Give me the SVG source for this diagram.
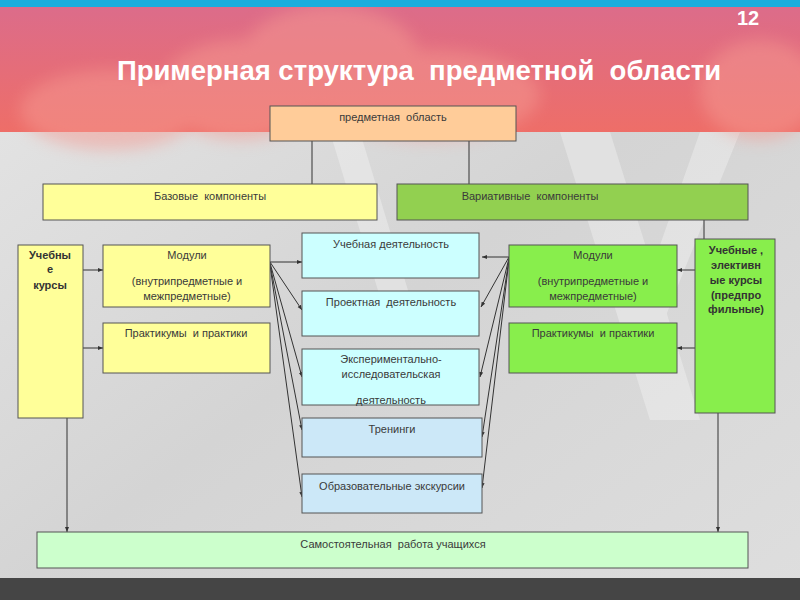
<svg xmlns="http://www.w3.org/2000/svg" width="800" height="600" viewBox="0 0 800 600" xml:space="preserve">
<defs>
  <linearGradient id="band" x1="0" y1="0" x2="0" y2="1">
    <stop offset="0" stop-color="#dc6c8a"/>
    <stop offset="1" stop-color="#ee6e68"/>
  </linearGradient>
  <linearGradient id="gray" x1="0" y1="0" x2="1" y2="1">
    <stop offset="0" stop-color="#e6e6e6"/>
    <stop offset="0.5" stop-color="#d4d4d4"/>
    <stop offset="1" stop-color="#dedede"/>
  </linearGradient>
  <filter id="blur" x="-20%" y="-20%" width="140%" height="140%">
    <feGaussianBlur stdDeviation="8"/>
  </filter>
  <marker id="arr" viewBox="0 0 10 10" refX="10" refY="5" markerWidth="5" markerHeight="5" markerUnits="userSpaceOnUse" orient="auto">
    <path d="M0,1 L10,5 L0,9 z" fill="#333"/>
  </marker>
  <style>
    text { white-space: pre; }
    .box { stroke: #555; stroke-width: 1; }
    .t { font-family: "Liberation Sans", Arial, sans-serif; font-size: 11px; fill: #3a3a3a; text-anchor: middle; }
    .tb { font-family: "Liberation Sans", Arial, sans-serif; font-size: 11px; font-weight: bold; fill: #333; text-anchor: middle; }
    .ln { stroke: #333; stroke-width: 1; fill: none; }
    .la { stroke: #333; stroke-width: 1; fill: none; marker-end: url(#arr); }
  </style>
</defs>

<!-- background -->
<rect x="0" y="0" width="800" height="600" fill="url(#gray)"/>
<g opacity="0.3" fill="#ffffff">
  <polygon points="560,132 610,132 700,420 650,420"/>
  <polygon points="700,132 740,132 660,330 630,330"/>
  <polygon points="330,132 360,132 420,330 390,330"/>
</g>
<rect x="0" y="7" width="800" height="125" fill="url(#band)"/>
<g filter="url(#blur)" fill="#f59a92" opacity="0.5">
  <ellipse cx="110" cy="110" rx="90" ry="40"/>
  <ellipse cx="240" cy="90" rx="80" ry="50"/>
  <ellipse cx="330" cy="60" rx="90" ry="55"/>
  <ellipse cx="430" cy="95" rx="110" ry="45"/>
  <ellipse cx="760" cy="90" rx="60" ry="50"/>
</g>
<rect x="0" y="0" width="800" height="7" fill="#1aaedd"/>
<rect x="0" y="578" width="800" height="22" fill="#454545"/>

<text x="748" y="25" font-family="Liberation Sans, Arial, sans-serif" font-size="20" font-weight="bold" fill="#ffffff" text-anchor="middle">12</text>
<text x="419" y="80" font-family="Liberation Sans, Arial, sans-serif" font-size="27.5" font-weight="bold" fill="#ffffff" text-anchor="middle">Примерная структура  предметной  области</text>

<!-- connectors -->
<g id="connectors">
  <line class="ln" x1="312" y1="141" x2="312" y2="184"/>
  <line class="ln" x1="469" y1="141" x2="469" y2="184"/>
  <line class="ln" x1="704" y1="220" x2="704" y2="239"/>
  <line class="la" x1="83" y1="270" x2="103" y2="270"/>
  <line class="la" x1="83" y1="348" x2="103" y2="348"/>
  <line class="la" x1="695" y1="270" x2="677" y2="270"/>
  <line class="la" x1="695" y1="348" x2="677" y2="348"/>
  <line class="la" x1="67" y1="418" x2="67" y2="532"/>
  <line class="la" x1="718" y1="413" x2="718" y2="532"/>
  <line class="la" x1="270" y1="262" x2="302" y2="262"/>
  <line class="la" x1="270" y1="262" x2="302" y2="310"/>
  <line class="la" x1="270" y1="263" x2="302" y2="377"/>
  <line class="la" x1="270" y1="264" x2="302" y2="430"/>
  <line class="la" x1="270" y1="265" x2="302" y2="497"/>
  <line class="la" x1="509" y1="257" x2="482" y2="257"/>
  <line class="la" x1="509" y1="257" x2="481" y2="307"/>
  <line class="la" x1="509" y1="258" x2="480" y2="377"/>
  <line class="la" x1="509" y1="259" x2="482" y2="437"/>
  <line class="la" x1="509" y1="260" x2="482" y2="488"/>
</g>

<g id="n-root">
  <rect class="box" x="270" y="106" width="246" height="35" fill="#ffcc99"/>
  <text class="t" x="393" y="121">предметная  область</text>
</g>
<g id="n-base">
  <rect class="box" x="43" y="184" width="334" height="36" fill="#ffff99"/>
  <text class="t" x="210" y="200">Базовые  компоненты</text>
</g>
<g id="n-var">
  <rect class="box" x="397" y="184" width="351" height="36" fill="#92d050"/>
  <text class="t" x="530" y="200">Вариативные  компоненты</text>
</g>
<g id="n-courses-l">
  <rect class="box" x="18" y="245" width="65" height="173" fill="#ffff99"/>
  <text class="tb" x="50" y="259">Учебны</text>
  <text class="tb" x="50" y="273">е</text>
  <text class="tb" x="50" y="289">курсы</text>
</g>
<g id="n-mod-l">
  <rect class="box" x="103" y="245" width="167" height="62" fill="#ffff99"/>
  <text class="t" x="187" y="259">Модули</text>
  <text class="t" x="187" y="285">(внутрипредметные и</text>
  <text class="t" x="187" y="300">межпредметные)</text>
</g>
<g id="n-prak-l">
  <rect class="box" x="103" y="323" width="167" height="50" fill="#ffff99"/>
  <text class="t" x="186" y="337">Практикумы  и практики</text>
</g>
<g id="n-ucheb">
  <rect class="box" x="302" y="233" width="177" height="45" fill="#ccffff"/>
  <text class="t" x="391" y="248">Учебная деятельность</text>
</g>
<g id="n-proekt">
  <rect class="box" x="302" y="291" width="177" height="45" fill="#ccffff"/>
  <text class="t" x="391" y="306">Проектная  деятельность</text>
</g>
<g id="n-exp">
  <rect class="box" x="302" y="349" width="177" height="56" fill="#ccffff"/>
  <text class="t" x="391" y="363">Экспериментально-</text>
  <text class="t" x="391" y="378">исследовательская</text>
  <text class="t" x="391" y="404">деятельность</text>
</g>
<g id="n-trening">
  <rect class="box" x="302" y="418" width="180" height="39" fill="#cce8f8"/>
  <text class="t" x="392" y="433">Тренинги</text>
</g>
<g id="n-ekskurs">
  <rect class="box" x="302" y="474" width="180" height="39" fill="#cce8f8"/>
  <text class="t" x="392" y="490">Образовательные экскурсии</text>
</g>
<g id="n-mod-r">
  <rect class="box" x="509" y="245" width="168" height="62" fill="#88ee4c"/>
  <text class="t" x="593" y="259">Модули</text>
  <text class="t" x="593" y="285">(внутрипредметные и</text>
  <text class="t" x="593" y="300">межпредметные)</text>
</g>
<g id="n-prak-r">
  <rect class="box" x="509" y="323" width="168" height="50" fill="#88ee4c"/>
  <text class="t" x="593" y="337">Практикумы  и практики</text>
</g>
<g id="n-courses-r">
  <rect class="box" x="695" y="239" width="80" height="174" fill="#88ee4c"/>
  <text class="tb" x="736" y="254">Учебные ,</text>
  <text class="tb" x="736" y="269">элективн</text>
  <text class="tb" x="736" y="284">ые курсы</text>
  <text class="tb" x="736" y="299">(предпро</text>
  <text class="tb" x="736" y="313">фильные)</text>
</g>
<g id="n-samost">
  <rect class="box" x="37" y="532" width="711" height="36" fill="#ccffcc"/>
  <text class="t" x="393" y="548">Самостоятельная  работа учащихся</text>
</g>
</svg>
